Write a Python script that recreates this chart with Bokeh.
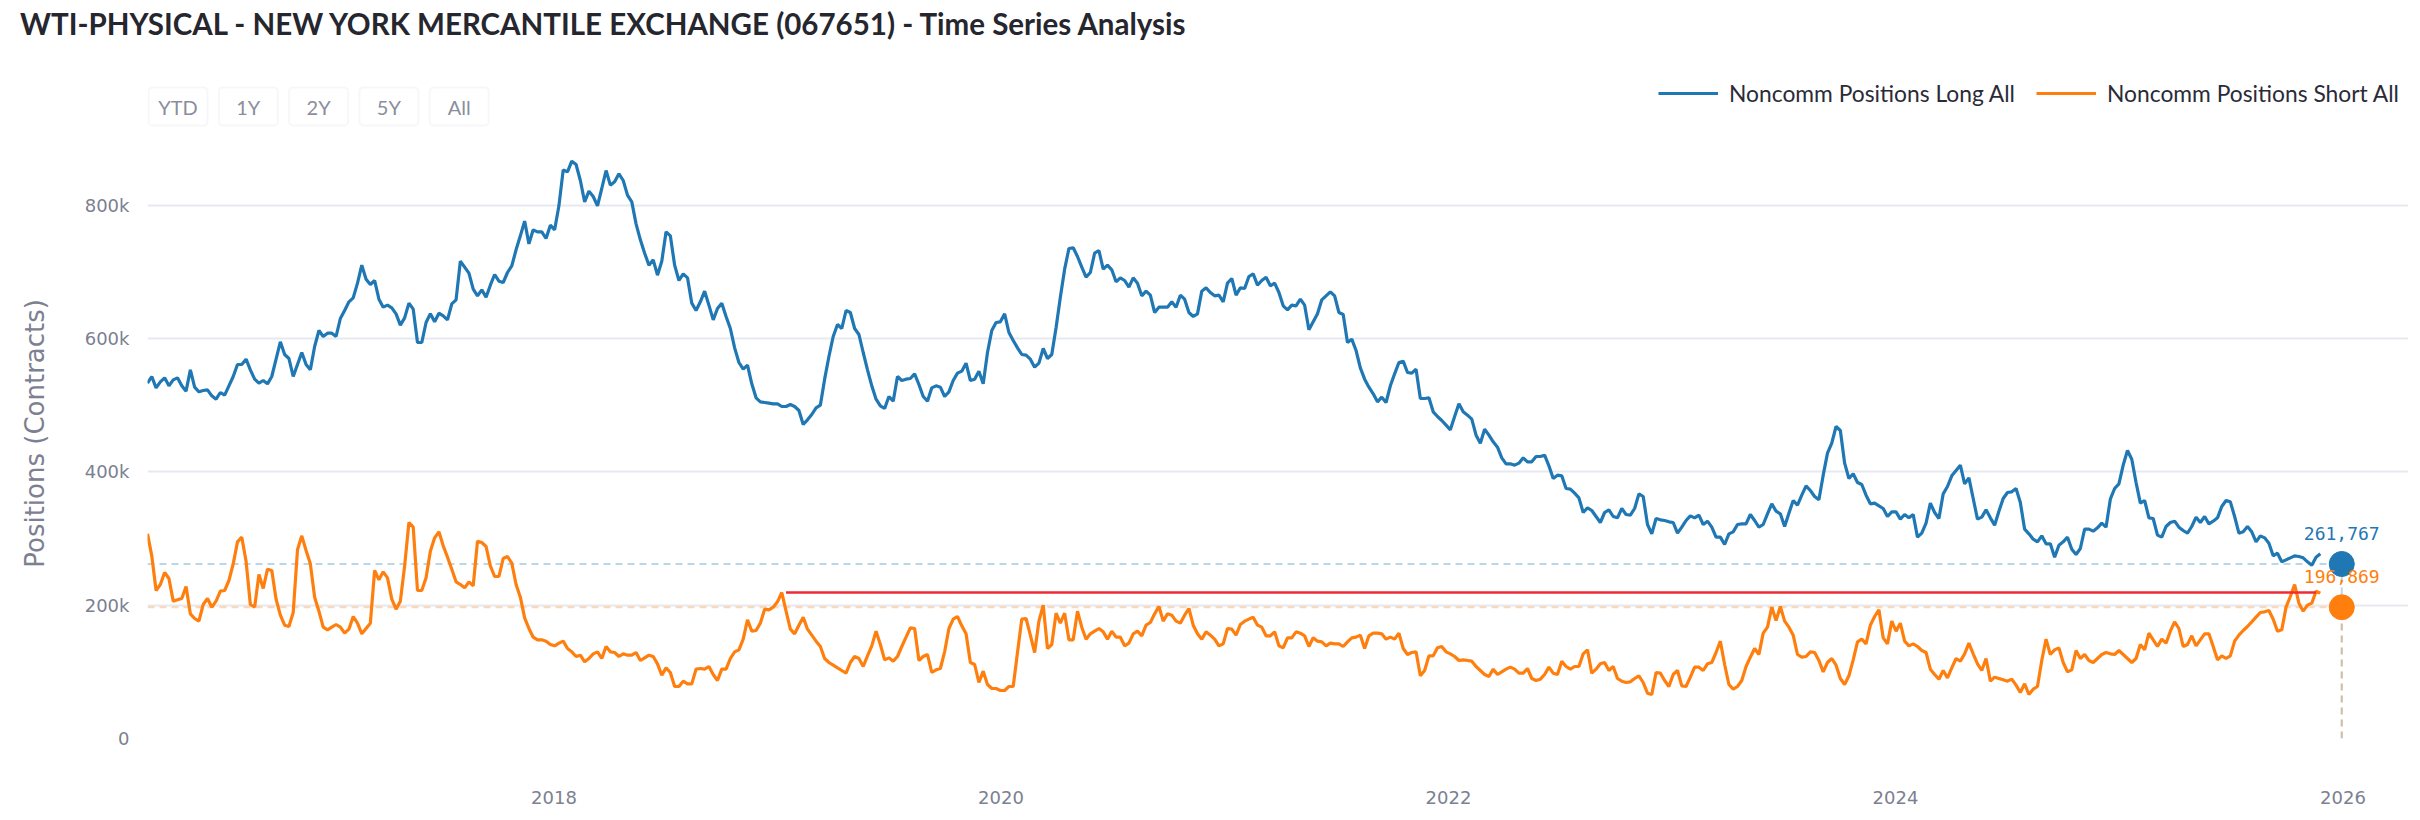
import pandas as pd
from bokeh.plotting import figure
from bokeh.layouts import column
from bokeh.models import (ColumnDataSource, FixedTicker, NumeralTickFormatter,
                          DatetimeTickFormatter, Label, BoxAnnotation, Legend,
                          LegendItem, Range1d, Div)
from bokeh.core.properties import value
from bokeh.embed import file_html
from bokeh.resources import INLINE

title_text = "WTI-PHYSICAL - NEW YORK MERCANTILE EXCHANGE (067651) - Time Series Analysis"
y_label = "Positions (Contracts)"
series_names = ["Noncomm Positions Long All", "Noncomm Positions Short All"]
range_buttons = ["YTD", "1Y", "2Y", "5Y", "All"]
x_tick_labels = ["2018", "2020", "2022", "2024", "2026"]
y_ticks = [0, 200000, 400000, 600000, 800000]

first_report = "2016-03-08"   # weekly reports from here on

# Noncommercial long positions, thousands of contracts (weekly)
long_k = [
    533, 543, 526, 535, 541, 529, 538, 541, 529, 521,
    553, 527, 520, 522, 523, 514, 509, 519, 515, 529,
    543, 561, 561, 569, 553, 539, 533, 537, 532, 543,
    569, 595, 576, 570, 543, 561, 579, 561, 553, 588,
    612, 603, 608, 608, 603, 630, 642, 655, 661, 683,
    710, 689, 681, 687, 659, 647, 650, 646, 637, 620,
    631, 653, 644, 594, 594, 624, 637, 625, 638, 634,
    628, 652, 658, 716, 707, 698, 674, 664, 673, 662,
    680, 696, 686, 684, 699, 709, 733, 754, 776, 742,
    763, 760, 760, 750, 770, 763, 799, 853, 850, 866,
    861, 837, 805, 821, 813, 799, 825, 852, 830, 835,
    847, 837, 815, 805, 772, 748, 728, 710, 718, 695,
    716, 760, 754, 710, 687, 697, 691, 653, 642, 655,
    671, 650, 628, 645, 653, 633, 615, 586, 564, 554,
    560, 532, 511, 505, 504, 503, 502, 502, 498, 498,
    501, 498, 492, 471, 478, 486, 496, 500, 539, 573,
    603, 621, 615, 642, 639, 615, 606, 579, 553, 529,
    509, 499, 495, 513, 506, 543, 537, 539, 540, 547,
    531, 513, 506, 526, 529, 527, 513, 520, 537, 548,
    551, 563, 537, 539, 551, 532, 579, 612, 624, 625,
    637, 609, 597, 586, 576, 575, 569, 557, 563, 585,
    570, 576, 616, 662, 704, 735, 736, 723, 707, 692,
    699, 728, 732, 704, 710, 703, 685, 691, 687, 677,
    691, 683, 664, 671, 665, 639, 647, 647, 647, 655,
    647, 665, 659, 639, 633, 637, 671, 676, 669, 664,
    665, 655, 683, 690, 665, 676, 675, 693, 697, 680,
    687, 692, 679, 683, 669, 649, 643, 650, 649, 659,
    650, 613, 625, 637, 658, 664, 670, 664, 639, 636,
    594, 599, 582, 556, 539, 527, 517, 505, 512, 504,
    529, 547, 564, 566, 549, 548, 554, 510, 510, 511,
    490, 483, 477, 470, 463, 483, 502, 490, 485, 479,
    455, 443, 464, 455, 445, 437, 421, 412, 412, 410,
    413, 421, 415, 415, 423, 423, 425, 409, 390, 395,
    394, 375, 374, 368, 361, 339, 346, 342, 333, 324,
    339, 343, 333, 331, 345, 336, 335, 345, 367, 363,
    321, 307, 330, 328, 327, 325, 324, 308, 317, 327,
    334, 331, 335, 321, 326, 317, 302, 302, 291, 307,
    310, 321, 322, 322, 336, 327, 317, 321, 337, 352,
    341, 337, 318, 338, 357, 350, 365, 379, 372, 363, 358,
    395, 428, 443, 468, 462, 413, 390, 397, 384, 381,
    365, 352, 353, 349, 345, 333, 340, 340, 329, 336,
    331, 336, 302, 308, 323, 353, 339, 330, 367, 378,
    394, 402, 410, 382, 391, 360, 329, 332, 343, 331,
    320, 341, 360, 369, 370, 375, 354, 314, 307, 299,
    295, 304, 292, 292, 272, 290, 295, 302, 284, 276,
    285, 314, 314, 311, 316, 323, 317, 359, 375, 382,
    410, 432, 419, 384, 353, 357, 331, 330, 305, 302,
    318, 324, 326, 317, 312, 308, 318, 332, 324, 333,
    322, 326, 331, 348, 357, 355, 333, 308, 310, 318,
    310, 295, 304, 301, 293, 274, 278, 265, 268, 271,
    274, 273, 271, 265, 260, 272, 277,
]

# Noncommercial short positions, thousands of contracts (weekly)
short_k = [
    307, 274, 222, 231, 249, 240, 206, 208, 210, 228,
    187, 180, 176, 201, 210, 197, 206, 221, 222, 237,
    262, 295, 302, 266, 201, 197, 246, 225, 254, 252,
    209, 185, 170, 168, 189, 283, 304, 282, 262, 212,
    191, 167, 163, 167, 171, 167, 158, 164, 183, 173,
    157, 165, 173, 252, 238, 250, 241, 209, 194, 206,
    259, 324, 317, 222, 222, 241, 281, 301, 310, 289,
    272, 254, 235, 231, 226, 235, 229, 296, 294, 288,
    259, 243, 243, 270, 273, 263, 231, 212, 181, 165,
    152, 148, 148, 146, 141, 139, 143, 146, 135, 130,
    123, 125, 115, 120, 127, 130, 120, 138, 130, 129,
    123, 127, 125, 125, 129, 117, 121, 125, 123, 112,
    95, 106, 99, 78, 78, 86, 82, 82, 104, 105,
    104, 108, 96, 87, 104, 104, 120, 130, 133, 149,
    178, 161, 162, 173, 194, 193, 197, 205, 219, 191,
    164, 157, 170, 182, 164, 155, 146, 138, 120, 114,
    110, 106, 102, 98, 114, 123, 120, 108, 124, 139,
    161, 141, 118, 121, 116, 123, 138, 152, 166, 165,
    117, 123, 126, 99, 103, 105, 130, 165, 179, 183,
    169, 157, 114, 111, 84, 101, 81, 75, 75, 72,
    72, 78, 78, 129, 179, 180, 155, 129, 176, 200,
    135, 141, 188, 173, 188, 148, 148, 191, 167, 149,
    157, 161, 165, 160, 149, 161, 152, 152, 139, 143,
    157, 161, 154, 170, 174, 187, 198, 176, 187, 185,
    176, 173, 185, 195, 170, 157, 149, 160, 155, 149,
    139, 142, 165, 164, 155, 171, 176, 179, 182, 170,
    167, 154, 154, 160, 139, 136, 151, 151, 160, 158,
    154, 138, 151, 146, 145, 139, 143, 142, 142, 138,
    145, 151, 152, 155, 135, 154, 158, 158, 157, 149,
    152, 149, 158, 135, 126, 129, 130, 94, 102, 124,
    124, 136, 138, 130, 127, 123, 117, 118, 117, 116,
    108, 102, 96, 93, 104, 96, 100, 104, 107, 104,
    98, 98, 105, 90, 87, 89, 96, 107, 98, 96,
    116, 108, 104, 108, 108, 127, 133, 98, 104, 112,
    114, 102, 108, 90, 86, 84, 85, 90, 94, 84,
    68, 66, 99, 98, 87, 78, 96, 102, 79, 78,
    92, 107, 107, 102, 112, 114, 129, 146, 111, 81,
    74, 78, 87, 108, 122, 135, 126, 158, 167, 197,
    177, 198, 176, 167, 155, 126, 122, 123, 130, 129, 117,
    100, 114, 120, 110, 90, 81, 94, 118, 145, 149,
    142, 170, 183, 193, 151, 142, 176, 161, 173, 146,
    139, 142, 138, 132, 129, 104, 96, 89, 102, 91,
    106, 120, 116, 127, 143, 127, 112, 102, 120, 86,
    92, 90, 88, 86, 89, 80, 69, 82, 66, 74,
    78, 117, 149, 126, 133, 136, 114, 100, 103, 132,
    120, 126, 117, 114, 120, 126, 129, 127, 126, 132,
    126, 120, 114, 120, 141, 133, 158, 148, 138, 149,
    143, 161, 175, 165, 138, 141, 154, 139, 148, 157,
    157, 138, 118, 124, 120, 124, 146, 155, 162, 168,
    175, 182, 189, 190, 192, 179, 161, 163, 197, 213,
    231, 203, 191, 200, 203, 221, 218,
]

latest_date = "2025-12-30"
latest_long = 261767
latest_short = 196869

level_value = 219000            # red horizontal level
level_start = "2019-01-15"
level_end = "2025-11-18"
view_end = "2026-04-18"

BLUE = "#1f77b4"
ORANGE = "#ff7f0e"
RED = "#ee2a35"
GRID = "#e6e9f0"
MUTED = "#7c8090"

n = min(len(long_k), len(short_k))
dates = pd.date_range(first_report, periods=n, freq="7D")
src = ColumnDataSource(dict(date=dates,
                            long=[v * 1000 for v in long_k[:n]],
                            short=[v * 1000 for v in short_k[:n]]))
latest = pd.Timestamp(latest_date)

title_div = Div(
    text=f'<div style="padding:8px 0 0 20px;font-family:Lato;font-weight:bold;'
         f'font-size:29.5px;line-height:32px;color:#26262f;white-space:nowrap;">{title_text}</div>',
    width=2408, height=56, margin=(0, 0, 0, 0))

p = figure(frame_width=2261, frame_height=668, x_axis_type="datetime",
           output_backend="svg", toolbar_location=None,
           x_range=Range1d(pd.Timestamp(first_report), pd.Timestamp(view_end)),
           y_range=Range1d(0, 1002000),
           min_border_left=147, min_border_right=0, min_border_top=14,
           min_border_bottom=74, background_fill_color="white",
           border_fill_color="white", margin=(0, 0, 0, 0))
p.outline_line_color = None

# reference lines for latest values
p.segment(x0=[dates[0], dates[0]], y0=[latest_long, latest_short],
          x1=[latest, latest], y1=[latest_long, latest_short],
          line_color=[BLUE, ORANGE], line_alpha=0.3, line_width=2, line_dash="7 5")
p.segment(x0=[latest, latest], y0=[0, 0], x1=[latest, latest],
          y1=[latest_long, latest_short],
          line_color=[BLUE, ORANGE], line_alpha=0.3, line_width=2, line_dash="7 5")

r_long = p.line("date", "long", source=src, line_color=BLUE, line_width=3.2)
r_short = p.line("date", "short", source=src, line_color=ORANGE, line_width=3.2)

p.segment(x0=[pd.Timestamp(level_start)], y0=[level_value],
          x1=[pd.Timestamp(level_end)], y1=[level_value],
          line_color=RED, line_width=2.5)

p.scatter(x=[latest, latest], y=[latest_long, latest_short], size=25,
          fill_color=[BLUE, ORANGE], line_color=[BLUE, ORANGE])
p.text(x=[latest, latest], y=[latest_long, latest_short],
       text=[f"{latest_long:,}", f"{latest_short:,}"],
       text_color=[BLUE, ORANGE], text_font=value("DejaVu Sans Mono"),
       text_font_size="18px", text_align="center", text_baseline="bottom",
       y_offset=-24)

# axes
p.xgrid.visible = False
p.ygrid.grid_line_color = GRID
p.ygrid.grid_line_width = 2
p.yaxis.ticker = FixedTicker(ticks=y_ticks)
p.yaxis.formatter = NumeralTickFormatter(format="0a")
p.xaxis.ticker = FixedTicker(ticks=[pd.Timestamp(f"{t}-01-01").value / 1e6 for t in x_tick_labels])
p.xaxis.formatter = DatetimeTickFormatter(years="%Y", months="%Y", days="%Y",
                                          hours="%Y", minutes="%Y")
for ax in (p.xaxis, p.yaxis):
    ax.axis_line_color = None
    ax.major_tick_line_color = None
    ax.minor_tick_line_color = None
    ax.major_tick_out = 0
    ax.major_tick_in = 0
    ax.major_label_text_font = "DejaVu Sans"
    ax.major_label_text_font_size = "18px"
    ax.major_label_text_color = MUTED
p.yaxis.major_label_standoff = 18
p.xaxis.major_label_standoff = 52
# non-breaking padding keeps the label centred on the lower plot area, as in the original
p.yaxis.axis_label = y_label + "\u00a0" * 7
p.yaxis.axis_label_text_font = "DejaVu Sans"
p.yaxis.axis_label_text_font_size = "26px"
p.yaxis.axis_label_text_font_style = "normal"
p.yaxis.axis_label_text_color = MUTED
p.yaxis.axis_label_standoff = 32

# legend (inside the frame's top band)
legend = Legend(items=[LegendItem(label=series_names[0], renderers=[r_long]),
                       LegendItem(label=series_names[1], renderers=[r_short])],
                location=(1511, 631), orientation="horizontal", padding=0, margin=0,
                spacing=21, label_standoff=11, glyph_width=60, glyph_height=24,
                label_text_font="Lato", label_text_font_size="22.8px",
                label_text_color="#2b2b38", border_line_alpha=0,
                background_fill_alpha=0)
p.add_layout(legend)

# range selector buttons (screen units from the frame's bottom-left)
for i, name in enumerate(range_buttons):
    left = i * 70.3 + 1
    p.add_layout(BoxAnnotation(left=left, right=left + 59, top=651, bottom=613,
                               left_units="screen", right_units="screen",
                               top_units="screen", bottom_units="screen",
                               fill_color="white", fill_alpha=1, line_color="#e3e6ec",
                               line_width=2, border_radius=4))
    p.add_layout(Label(x=left + 29.5, y=632, x_units="screen", y_units="screen",
                       text=name, text_font="Lato", text_font_size="20px",
                       text_color="#8a8e9c", text_align="center",
                       text_baseline="middle"))

layout = column(title_div, p, spacing=0, margin=(0, 0, 0, 0))
open("out.html", "w").write(file_html(layout, INLINE))
